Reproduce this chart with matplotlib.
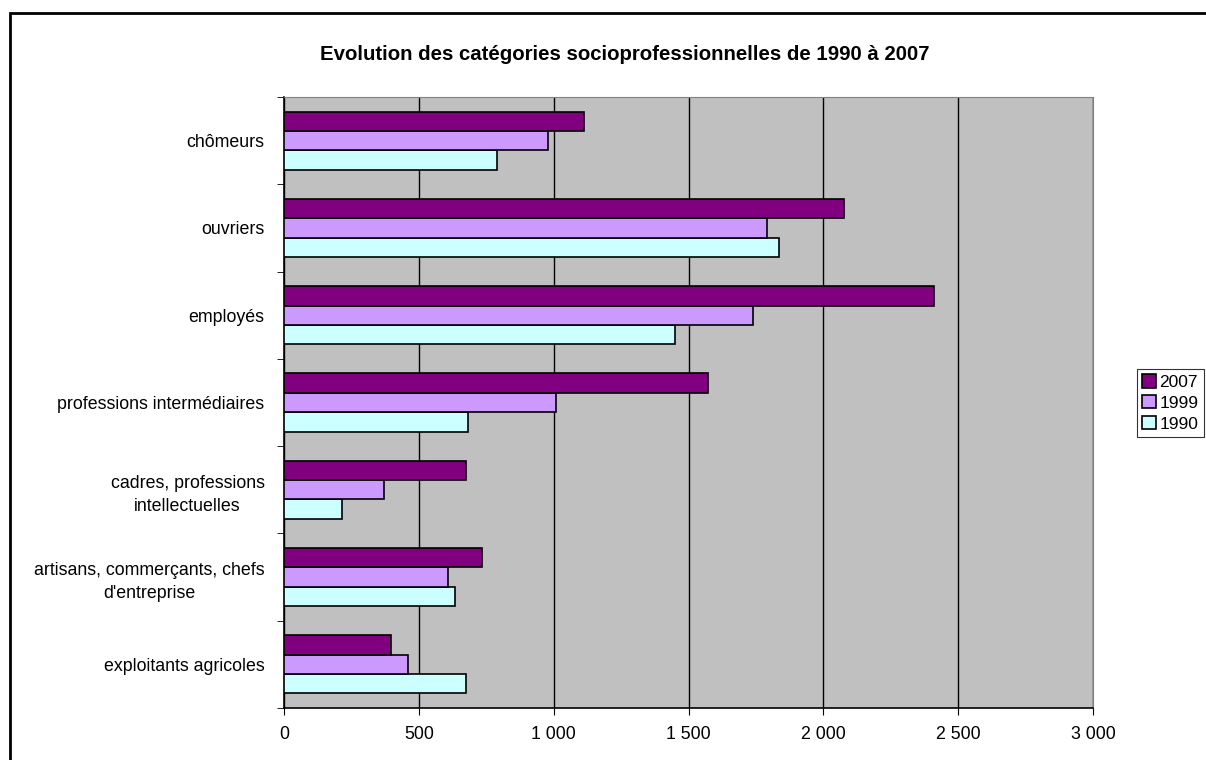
import numpy as np
import matplotlib
matplotlib.use("Agg")
import matplotlib.pyplot as plt
from matplotlib.patches import Rectangle
from matplotlib.ticker import FuncFormatter

plt.rcParams['font.family'] = ['Liberation Sans', 'DejaVu Sans']

# categories, bottom to top as drawn
categories = ["exploitants agricoles",
              "artisans, commerçants, chefs\nd'entreprise",
              "cadres, professions\nintellectuelles",
              "professions intermédiaires",
              "employés",
              "ouvriers",
              "chômeurs"]
v1990 = [674, 635, 216, 683, 1451, 1837, 791]
v1999 = [461, 610, 370, 1009, 1738, 1791, 980]
v2007 = [396, 733, 674, 1572, 2410, 2076, 1111]
years = ["1990", "1999", "2007"]
colors = ["#CCFFFF", "#CC99FF", "#800080"]

fig = plt.figure(figsize=(12.06, 7.6), dpi=100)
ax = fig.add_axes([284/1206, 1 - 708/760, (1093-284)/1206, (708-97)/760])
ax.set_facecolor("#C0C0C0")

y = np.arange(len(categories))
h = 0.222
for i, (vals, lab, c) in enumerate(zip([v1990, v1999, v2007], years, colors)):
    ax.barh(y + (i - 1) * h, vals, height=h, color=c, edgecolor="black",
            linewidth=1.2, label=lab, zorder=3)

ax.set_xlim(0, 3000)
ax.set_ylim(-0.5, len(categories) - 0.5)
ax.set_xticks(np.arange(0, 3001, 500))
ax.xaxis.set_major_formatter(FuncFormatter(lambda v, p: f"{int(v):,}".replace(",", " ")))
ax.grid(axis="x", color="black", linewidth=1, zorder=1)

ax.set_yticks(y)
ax.set_yticklabels(categories, multialignment="center", linespacing=1.45)
ax.set_yticks(np.arange(-0.5, len(categories), 1), minor=True)
ax.tick_params(axis="y", which="major", length=0, pad=14, labelsize=12.8)
ax.tick_params(axis="y", which="minor", length=5, direction="out")
ax.tick_params(axis="x", length=5, direction="out", pad=8, labelsize=12.8)

for s in ["top", "right"]:
    ax.spines[s].set_color("#808080")
for s in ["left", "bottom"]:
    ax.spines[s].set_color("black")
    ax.spines[s].set_linewidth(1.2)

fig.text(625/1206, 1 - 55/760, "Evolution des catégories socioprofessionnelles de 1990 à 2007",
         ha="center", va="center", fontsize=14.7, fontweight="bold")

handles, labels = ax.get_legend_handles_labels()
leg = fig.legend(handles[::-1], labels[::-1], loc="center left",
                 bbox_to_anchor=(1137/1206, 1 - 403/760), fontsize=12.5,
                 frameon=True, fancybox=False, edgecolor="black",
                 handlelength=0.8, handleheight=0.8, handletextpad=0.2,
                 borderpad=0.3, labelspacing=0.3, borderaxespad=0)
leg.get_frame().set_linewidth(0.8)

# outer chart border
fig.patches.append(Rectangle((10/1206, -0.05), 1.2, 1 - 13/760 + 0.05,
                             transform=fig.transFigure, fill=False,
                             edgecolor="black", linewidth=2))

fig.savefig("out.png", dpi=100)
